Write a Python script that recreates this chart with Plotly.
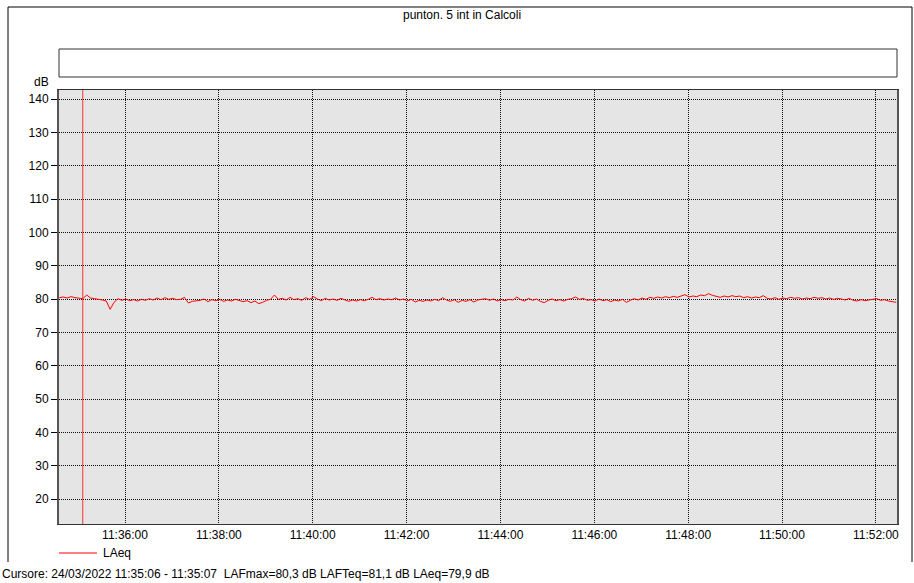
import pandas as pd
import plotly.graph_objects as go

# ---- data ----
start_time = "2022-03-24 11:34:36"
step_seconds = 5
laeq = [
    80.4, 80.6, 80.3, 80.7, 80.4, 80.2, 80.1, 81.2, 80.3, 80.1,
    80.0, 79.7, 79.4, 76.9, 79.0, 80.1, 79.6, 80.0, 79.5, 79.8,
    79.4, 79.9, 79.6, 80.1, 79.7, 80.3, 79.8, 80.4, 79.9, 80.2,
    79.8, 79.9, 80.5, 78.8, 79.3, 79.4, 79.6, 80.0, 79.2, 79.8,
    79.5, 79.9, 79.3, 79.7, 79.4, 79.9, 79.6, 79.2, 79.5, 78.9,
    79.4, 78.6, 79.0, 79.6, 79.9, 81.2, 79.9, 80.2, 79.7, 80.5,
    79.8, 80.1, 79.6, 80.4, 79.9, 80.7, 80.0, 79.5, 80.2, 79.7,
    80.0, 79.6, 80.2, 79.8, 79.3, 79.7, 79.4, 79.8, 79.5, 79.9,
    80.5, 79.8, 80.1, 79.7, 80.0, 79.8, 80.3, 79.7, 80.0, 79.4,
    79.9, 79.1, 79.6, 79.3, 79.7, 79.4, 79.9, 79.5, 80.4, 79.7,
    79.3, 79.8, 79.0, 79.6, 79.3, 79.8, 79.1, 79.7, 79.9, 80.1,
    79.6, 80.0, 79.4, 79.8, 79.5, 79.9, 79.7, 80.6, 79.8, 79.4,
    80.2, 79.6, 80.0, 79.3, 78.9, 79.6, 80.0, 79.5, 79.8, 79.4,
    79.9, 80.1, 80.6, 79.9, 80.2, 79.6, 79.8, 79.4, 80.0, 79.5,
    79.8, 79.2, 79.7, 79.4, 79.9, 79.0, 79.6, 80.1, 79.7, 80.3,
    79.9, 80.5, 80.2, 80.6, 80.3, 80.7, 80.4, 80.8, 80.5, 81.0,
    81.3, 80.6, 80.9, 80.7, 81.2, 81.0, 81.6, 81.1, 80.8, 80.5,
    80.9, 80.6, 81.0, 80.7, 80.9, 80.4, 80.7, 80.3, 80.6, 80.4,
    81.0, 80.2, 80.0, 80.4, 79.9, 80.3, 80.1, 80.5, 80.2, 80.4,
    80.0, 80.3, 80.1, 80.5, 80.2, 80.4, 80.0, 80.3, 79.9, 80.2,
    80.0, 79.7, 80.2, 79.6, 79.4, 79.8, 79.5, 79.7, 79.9, 80.1,
    79.6, 79.8, 79.4, 79.3, 79.0,
]
times = pd.date_range(start_time, periods=len(laeq), freq=f"{step_seconds}s")

x_range = ["2022-03-24 11:34:35.6", "2022-03-24 11:52:27"]
y_range = [12.5, 142.7]
y_ticks = [20, 30, 40, 50, 60, 70, 80, 90, 100, 110, 120, 130, 140]
x_tick_vals = ["2022-03-24 11:%02d:00" % m for m in range(36, 53, 2)]
x_tick_text = ["11:%02d:00" % m for m in range(36, 53, 2)]
cursor_time = "2022-03-24 11:35:06"

title_text = "punton. 5 int in Calcoli"
series_name = "LAeq"
cursor_text = ("Cursore: 24/03/2022 11:35:06 - 11:35:07  LAFmax=80,3 dB "
               "LAFTeq=81,1 dB LAeq=79,9 dB")

FONT = "Liberation Sans, Arial, sans-serif"
PW, PH = 838, 434  # plot area size in px

fig = go.Figure()
fig.add_trace(go.Scatter(
    x=times, y=laeq, mode="lines", name=series_name,
    line=dict(color="#ff0000", width=1), showlegend=False,
))

fig.update_layout(
    width=914, height=583,
    margin=dict(l=59, r=17, t=90, b=59),
    paper_bgcolor="white",
    plot_bgcolor="#e5e5e5",
    font=dict(family=FONT, size=12, color="black"),
    showlegend=False,
)

fig.update_xaxes(
    range=x_range, tickvals=x_tick_vals, ticktext=x_tick_text,
    showgrid=True, gridcolor="#111111", griddash="1px,1px", gridwidth=1,
    showline=True, linecolor="#333333", linewidth=1, mirror=True,
    ticks="", zeroline=False, tickfont=dict(size=12),
)
fig.update_yaxes(
    range=y_range, tickvals=y_ticks,
    showgrid=True, gridcolor="#111111", griddash="1px,1px", gridwidth=1,
    showline=True, linecolor="#555555", linewidth=2, mirror=True,
    ticks="outside", ticklen=6, tickcolor="black", tickwidth=1,
    zeroline=False, tickfont=dict(size=12),
)

def px_x(x):
    return (x - 59) / PW

def px_y(y):
    return (524 - y) / PH

shapes = [
    # outer frame (top, left, right)
    dict(type="line", xref="paper", yref="paper", x0=px_x(8), x1=px_x(912),
         y0=px_y(7), y1=px_y(7), line=dict(color="black", width=1)),
    dict(type="line", xref="paper", yref="paper", x0=px_x(8), x1=px_x(8),
         y0=px_y(7), y1=px_y(562), line=dict(color="black", width=1)),
    dict(type="line", xref="paper", yref="paper", x0=px_x(912), x1=px_x(912),
         y0=px_y(7), y1=px_y(562), line=dict(color="black", width=1)),
    # empty legend box
    dict(type="rect", xref="paper", yref="paper", x0=0, x1=1,
         y0=px_y(77), y1=px_y(49), line=dict(color="#333333", width=1),
         fillcolor="white"),
    # cursor line
    dict(type="line", xref="x", yref="paper", x0=cursor_time, x1=cursor_time,
         y0=0, y1=1, line=dict(color="#ff3030", width=1)),
    # legend sample line
    dict(type="line", xref="paper", yref="paper", x0=0, x1=px_x(97),
         y0=px_y(553), y1=px_y(553), line=dict(color="#ff0000", width=1)),
]
fig.update_layout(shapes=shapes)

annotations = [
    dict(text=title_text, xref="paper", yref="paper", x=px_x(462),
         y=px_y(15), showarrow=False, xanchor="center", yanchor="middle",
         font=dict(size=12)),
    dict(text="dB", xref="paper", yref="paper", x=px_x(51), y=px_y(82),
         showarrow=False, xanchor="right", yanchor="middle",
         font=dict(size=12)),
    dict(text=series_name, xref="paper", yref="paper", x=px_x(101), y=px_y(553),
         showarrow=False, xanchor="left", yanchor="middle",
         font=dict(size=12)),
    dict(text=cursor_text, xref="paper", yref="paper", x=px_x(0), y=px_y(574),
         showarrow=False, xanchor="left", yanchor="middle",
         font=dict(size=12)),
]
fig.update_layout(annotations=annotations)

fig.write_html("out.html",
               config={"displayModeBar": False},
               post_script="document.body.style.margin='0';")
